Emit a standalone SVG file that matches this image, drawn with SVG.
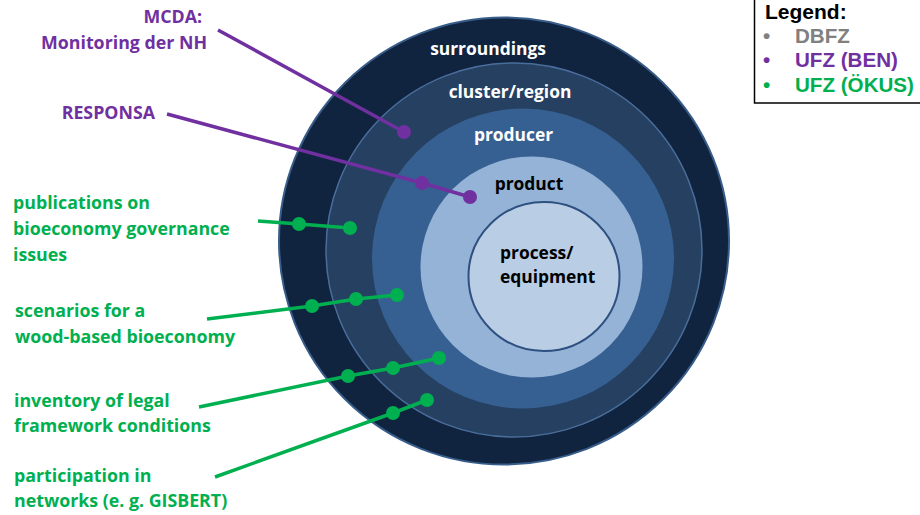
<svg xmlns="http://www.w3.org/2000/svg" width="920" height="515" viewBox="0 0 920 515">
<style>
.lbl{font-family:"Open Sans","Noto Sans",sans-serif;font-weight:bold;font-size:17.8px}
.cl{font-family:"Open Sans","Noto Sans",sans-serif;font-weight:bold;font-size:17.4px}
.w{fill:#ffffff}
.k{fill:#000000}
.g{fill:#00b050}
.p{fill:#7030a0}
.leg{font-family:"Liberation Sans",Arial,sans-serif;font-weight:bold;font-size:20.6px}
.gl{stroke:#00b050;stroke-width:3.5;fill:none;stroke-linecap:butt}
.pl{stroke:#7030a0;stroke-width:3.5;fill:none}
.gd{fill:#00b050}
.pd{fill:#7030a0}
</style>
<rect x="0" y="0" width="920" height="515" fill="#ffffff"/>
<g id="circles">
<ellipse id="surroundings" cx="504" cy="241" rx="225" ry="223.5" fill="#10243f" stroke="#385d8a" stroke-width="2"/>
<ellipse id="cluster" cx="514" cy="250" rx="188" ry="187" fill="#254061" stroke="#4a6e9c" stroke-width="1.5"/>
<ellipse id="producer" cx="523" cy="258.5" rx="151" ry="150" fill="#376092"/>
<ellipse id="product" cx="531.5" cy="267" rx="111" ry="110.5" fill="#95b3d7"/>
<ellipse id="process" cx="544" cy="276.5" rx="75.5" ry="74.5" fill="#b9cde5" stroke="#2e5080" stroke-width="2"/>
</g>
<g id="circle-labels">
<text class="cl w" x="488" y="55" text-anchor="middle">surroundings</text>
<text class="cl w" x="510" y="98" text-anchor="middle">cluster/region</text>
<text class="cl w" x="513.5" y="141" text-anchor="middle">producer</text>
<text class="cl k" x="529" y="190" text-anchor="middle">product</text>
<text class="cl k" x="500" y="259">process/</text>
<text class="cl k" x="500" y="283">equipment</text>
</g>
<g id="connectors">
<polyline class="pl" points="218,30 404,132"/>
<polyline class="pl" points="167,114 422,183 470,197"/>
<polyline class="gl" points="258,221 299,224 350,228"/>
<polyline class="gl" points="207,319 312,306 356,299 397,295"/>
<polyline class="gl" points="199,407 348,376 393,368 439,358"/>
<polyline class="gl" points="215,477 393,413 427,400"/>
<circle class="pd" cx="404" cy="132" r="7"/>
<circle class="pd" cx="422" cy="183" r="7"/>
<circle class="pd" cx="470" cy="197" r="7"/>
<circle class="gd" cx="299" cy="224" r="7"/>
<circle class="gd" cx="350" cy="228" r="7"/>
<circle class="gd" cx="312" cy="306" r="7"/>
<circle class="gd" cx="356" cy="299" r="7"/>
<circle class="gd" cx="397" cy="295" r="7"/>
<circle class="gd" cx="348" cy="376" r="7"/>
<circle class="gd" cx="393" cy="368" r="7"/>
<circle class="gd" cx="439" cy="358" r="7"/>
<circle class="gd" cx="393" cy="413" r="7"/>
<circle class="gd" cx="427" cy="400" r="7"/>
</g>
<g id="mcda">
<text class="lbl p" x="202" y="23" text-anchor="end">MCDA:</text>
<text class="lbl p" x="207" y="49" text-anchor="end">Monitoring der NH</text>
</g>
<g id="responsa">
<text class="lbl p" x="155" y="119" text-anchor="end">RESPONSA</text>
</g>
<g id="publications">
<text class="lbl g" x="13" y="209">publications on</text>
<text class="lbl g" x="13" y="235">bioeconomy governance</text>
<text class="lbl g" x="13" y="261">issues</text>
</g>
<g id="scenarios">
<text class="lbl g" x="15" y="317">scenarios for a</text>
<text class="lbl g" x="15" y="343">wood-based bioeconomy</text>
</g>
<g id="inventory">
<text class="lbl g" x="14" y="407">inventory of legal</text>
<text class="lbl g" x="14" y="432">framework conditions</text>
</g>
<g id="participation">
<text class="lbl g" x="14" y="482">participation in</text>
<text class="lbl g" x="14" y="507">networks (e. g. GISBERT)</text>
</g>
<g id="legend">
<rect x="754.5" y="-2" width="170" height="105" fill="#ffffff" stroke="#000000" stroke-width="1.5"/>
<text class="leg" x="765" y="19" style="font-size:21px">Legend:</text>
<text class="leg" x="763" y="43" fill="#808080">•</text>
<text class="leg" x="795" y="43" fill="#808080">DBFZ</text>
<text class="leg p" x="763" y="67">•</text>
<text class="leg p" x="795" y="67">UFZ (BEN)</text>
<text class="leg g" x="763" y="92">•</text>
<text class="leg g" x="795" y="92">UFZ (ÖKUS)</text>
</g>
</svg>
